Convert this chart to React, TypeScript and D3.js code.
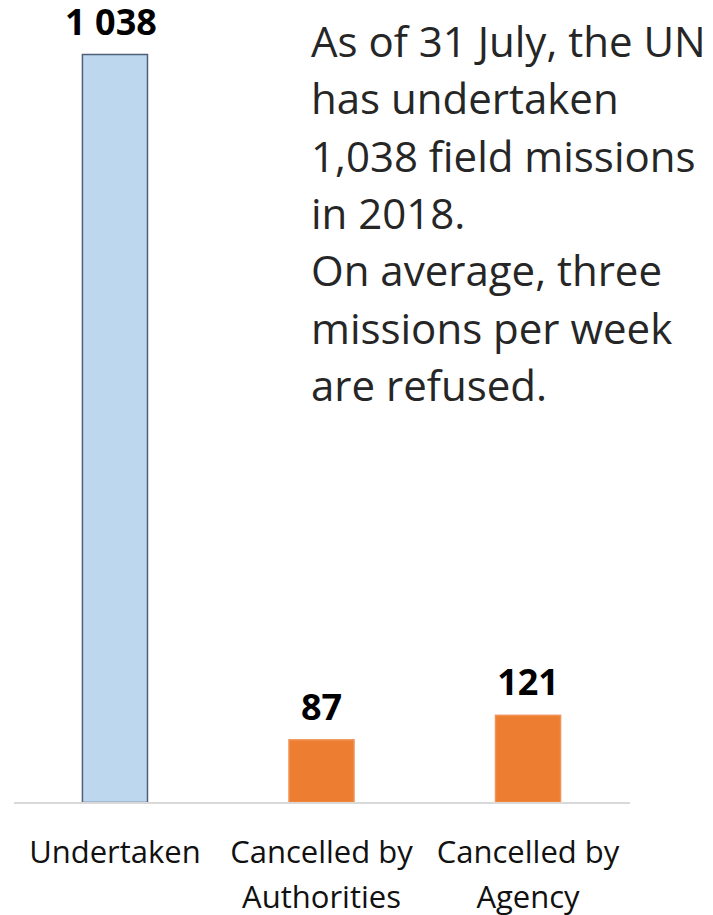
import { useEffect, useRef } from "react";
import * as d3 from "d3";

const CATEGORIES = ["Undertaken", "Cancelled by Authorities", "Cancelled by Agency"];
const LABEL_LINES = [["Undertaken"], ["Cancelled by", "Authorities"], ["Cancelled by", "Agency"]];
const VALUES = [1038, 87, 121];
const VALUE_LABELS = ["1 038", "87", "121"];
const BAR_COLORS = ["#BDD7EE", "#ED7D31", "#ED7D31"];
const BAR_STROKES = ["#4F6178", "#F0955A", "#F0955A"];
const NOTE = [
  "As of 31 July, the UN",
  "has undertaken",
  "1,038 field missions",
  "in 2018.",
  "On average, three",
  "missions per week",
  "are refused.",
];

const FONT = "'Open Sans', 'Noto Sans', sans-serif";

export default function App() {
  const svgRef = useRef<SVGSVGElement>(null);

  useEffect(() => {
    const W = 713, H = 915;
    const svg = d3.select(svgRef.current).attr("width", W).attr("height", H);
    svg.selectAll("*").remove();

    const x = d3.scaleBand<string>().domain(CATEGORIES).range([12, 631]).paddingInner(0.685).paddingOuter(0.341);
    const y = d3.scaleLinear().domain([0, 1038]).range([802.5, 54.5]);

    svg.append("rect").attr("width", W).attr("height", H).attr("fill", "white");

    // bars
    svg.selectAll("rect.bar").data(VALUES).enter().append("rect")
      .attr("class", "bar")
      .attr("x", (_, i) => x(CATEGORIES[i])!)
      .attr("y", d => y(d))
      .attr("width", x.bandwidth())
      .attr("height", d => y(0) - y(d))
      .attr("fill", (_, i) => BAR_COLORS[i])
      .attr("stroke", (_, i) => BAR_STROKES[i])
      .attr("stroke-width", 1.5);

    // baseline
    svg.append("line").attr("x1", 14).attr("x2", 630).attr("y1", y(0) + 0.5).attr("y2", y(0) + 0.5)
      .attr("stroke", "#D9D9D9").attr("stroke-width", 2);

    // value labels
    svg.selectAll("text.val").data(VALUES).enter().append("text")
      .attr("class", "val")
      .attr("x", (_, i) => x(CATEGORIES[i])! + x.bandwidth() / 2 - (i === 0 ? 4 : 0))
      .attr("y", d => y(d) - 20)
      .attr("text-anchor", "middle")
      .attr("font-family", FONT).attr("font-weight", 700).attr("font-size", 36)
      .attr("fill", "#000")
      .text((_, i) => VALUE_LABELS[i]);

    // category labels
    LABEL_LINES.forEach((lines, i) => {
      const cx = x(CATEGORIES[i])! + x.bandwidth() / 2;
      lines.forEach((ln, j) => {
        svg.append("text")
          .attr("x", cx).attr("y", 863 + j * 45)
          .attr("text-anchor", "middle")
          .attr("font-family", FONT).attr("font-size", 31)
          .attr("fill", "#111")
          .text(ln);
      });
    });

    // note
    NOTE.forEach((ln, i) => {
      svg.append("text")
        .attr("x", 311).attr("y", 57 + i * 57.3)
        .attr("font-family", FONT).attr("font-size", 42)
        .attr("fill", "#262626")
        .text(ln);
    });
  }, []);

  return (
    <div style={{ position: "absolute", left: 0, top: 0 }}>
      <svg ref={svgRef} style={{ display: "block" }} />
    </div>
  );
}
